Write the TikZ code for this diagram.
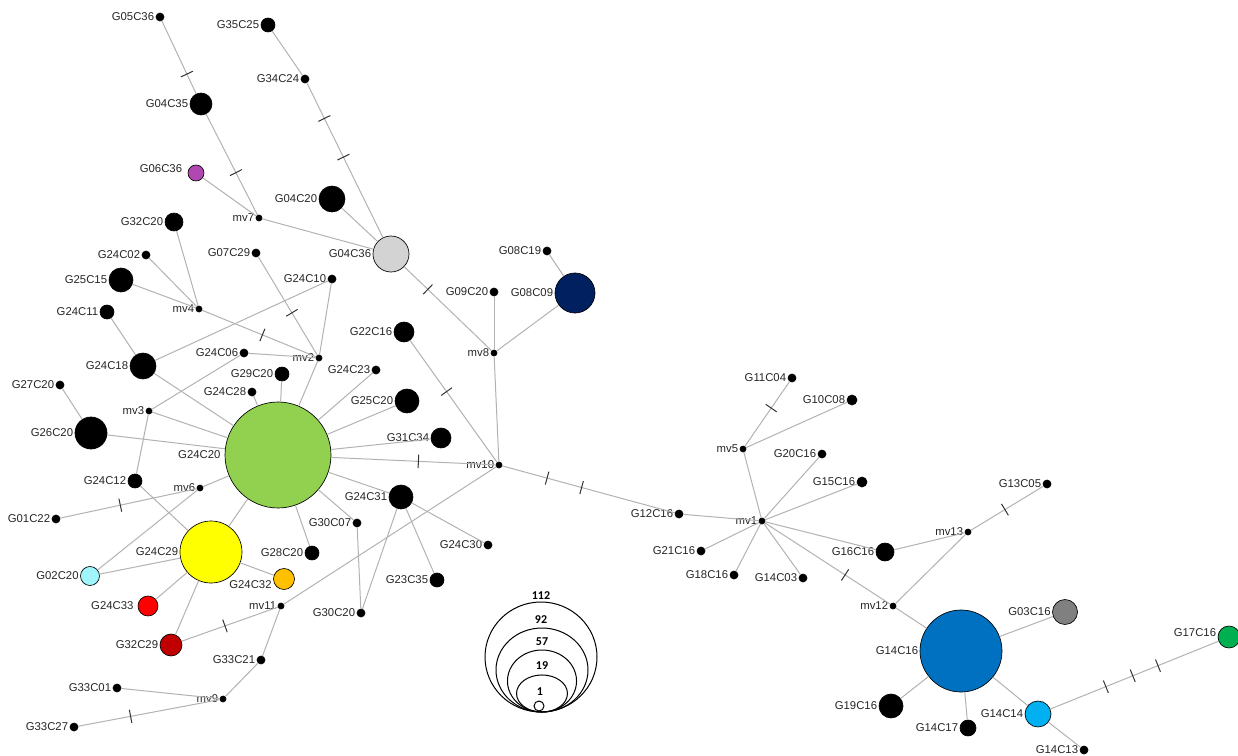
\documentclass[tikz,border=0pt]{standalone}
\usepackage{fontspec}
\setmainfont{Liberation Sans}
\newfontfamily\keyfont{Carlito}
\usepackage{tikz}

\definecolor{hgreen}{RGB}{146,208,80}
\definecolor{hlgray}{RGB}{211,211,211}
\definecolor{hpurple}{RGB}{177,72,178}
\definecolor{hnavy}{RGB}{0,32,96}
\definecolor{hyellow}{RGB}{255,255,0}
\definecolor{hpale}{RGB}{160,245,250}
\definecolor{hred}{RGB}{255,0,0}
\definecolor{hdred}{RGB}{192,0,0}
\definecolor{horange}{RGB}{255,192,0}
\definecolor{hblue}{RGB}{0,112,192}
\definecolor{hgray}{RGB}{128,128,128}
\definecolor{hsky}{RGB}{0,176,240}
\definecolor{hlime}{RGB}{0,176,80}

\begin{document}
\begin{tikzpicture}[x=0.75pt, y=-0.75pt,
    hap/.style={circle, draw=black, line width=0.5pt, fill=black, inner sep=0pt, minimum size=#1*1.5pt},
    mv/.style={hap=3},
    lbl/.style={font=\fontsize{8.5}{9}\selectfont, text=black!85, inner sep=1pt},
    lnk/.style={draw=gray!60, line width=0.75pt},
    tk/.style={draw=black!80, line width=0.75pt, sloped, inner sep=0pt, minimum width=0pt, minimum height=10pt},
    key/.style={draw=black, line width=0.75pt},
    keylbl/.style={font=\keyfont\bfseries\fontsize{9}{10}\selectfont, inner sep=0pt}]
    \useasboundingbox (0,0) rectangle (1238,756);

    % black haplotypes
    \foreach \n/\x/\y/\r in {G05C36/160/17/4, G35C25/268/25/7, G04C35/201/104/11, G34C24/305/79/4,
        G04C20/332/199/13, G32C20/174/222/9, G24C02/146/255/4, G07C29/256/253/4, G25C15/121/280/12,
        G24C10/332/279/4, G24C11/107/312/7, G22C16/404/332/10, G24C06/244/353/4, G24C18/143/366/13,
        G29C20/282/374/7, G24C23/376/370/4, G24C28/252/392/4, G27C20/60/385/4, G25C20/407/401/12,
        G26C20/91/433/16, G31C34/441/438/10, G24C12/135/481/7, G24C31/401/497/12, G01C22/56/519/4,
        G30C07/357/523/4, G24C30/488/545/4, G28C20/312/553/7, G23C35/437/580/7, G30C20/361/613/4,
        G33C21/261/660/4, G33C01/117/688/4, G33C27/74/727/4, G08C19/547/251/4, G09C20/494/292/4,
        G12C16/679/514/4, G11C04/792/378/4, G10C08/852/400/5, G20C16/822/454/4, G15C16/862/482/5,
        G21C16/701/551/4, G18C16/734/575/4, G14C03/803/578/4, G16C16/885/552/9, G13C05/1047/484/4,
        G19C16/891/706/12, G14C17/968/728/8, G14C13/1084/750/4}
        \node[hap=\r, label={[lbl]left:\n}] (\n) at (\x,\y) {};

    % median vectors
    \foreach \n/\x/\y in {mv7/259/218, mv4/199/309, mv2/319/358, mv3/149/411, mv6/200/488,
        mv11/281/606, mv9/223/699, mv8/494/353, mv10/499/465, mv5/743/449, mv1/762/521,
        mv13/968/532, mv12/893/606}
        \node[mv, label={[lbl]left:\n}] (\n) at (\x,\y) {};

    % coloured haplotypes
    \node[hap=53, fill=hgreen, label={[lbl, label distance=2pt]left:G24C20}] (G24C20) at (278,455) {};
    \node[hap=18, fill=hlgray, label={[lbl]left:G04C36}] (G04C36) at (391,254) {};
    \node[hap=8, fill=hpurple, label={[lbl, label distance=3pt, yshift=3pt]left:G06C36}] (G06C36) at (196,173) {};
    \node[hap=20, fill=hnavy, label={[lbl]left:G08C09}] (G08C09) at (575,293) {};
    \node[hap=31, fill=hyellow, label={[lbl]left:G24C29}] (G24C29) at (211,552) {};
    \node[hap=9.5, fill=hpale, label={[lbl]left:G02C20}] (G02C20) at (90,576) {};
    \node[hap=10, fill=hred, label={[lbl, label distance=2pt]left:G24C33}] (G24C33) at (148,606) {};
    \node[hap=11, fill=hdred, label={[lbl]left:G32C29}] (G32C29) at (171,645) {};
    \node[hap=10.5, fill=horange, label={[lbl, yshift=-4pt]left:G24C32}] (G24C32) at (284,579) {};
    \node[hap=41, fill=hblue, label={[lbl]left:G14C16}] (G14C16) at (961,651) {};
    \node[hap=12.5, fill=hgray, label={[lbl]left:G03C16}] (G03C16) at (1065,612) {};
    \node[hap=13, fill=hsky, label={[lbl]left:G14C14}] (G14C14) at (1038,714) {};
    \node[hap=11, fill=hlime, label={[lbl, yshift=3pt]left:G17C16}] (G17C16) at (1229,637) {};

    % plain links
    \foreach \a/\b in {G06C36/mv7, mv7/G04C36, G35C25/G34C24, G04C20/G04C36, G08C19/G08C09,
        G08C09/mv8, G09C20/mv8, mv8/mv10, mv10/mv11, mv11/G33C21, G33C21/mv9, mv9/G33C01,
        G32C20/mv4, G24C02/mv4, G25C15/mv4, G24C10/mv2, G24C10/G24C18, G24C06/mv2, mv2/G24C20,
        G24C06/mv3, G24C11/G24C18, G24C18/G24C20, G27C20/G26C20, G26C20/G24C20, mv3/G24C20,
        mv3/G24C12, G29C20/G24C20, G24C28/G24C20, G24C23/G24C20, G25C20/G24C20, G31C34/G24C20,
        G24C31/G24C20, G30C07/G24C20, G28C20/G24C20, G24C20/G24C29, G24C20/mv6, mv6/G02C20,
        G24C12/G24C29, G02C20/G24C29, G24C33/G24C29, G32C29/G24C29, G24C32/G24C29,
        G24C31/G24C30, G24C31/G23C35, G24C31/G30C20, G30C07/G30C20, G12C16/mv1, mv1/mv5,
        mv5/G10C08, mv1/G20C16, mv1/G15C16, mv1/G21C16, mv1/G18C16, mv1/G14C03, mv1/G16C16,
        G16C16/mv13, mv13/mv12, mv12/G14C16, G14C16/G03C16, G14C16/G19C16, G14C16/G14C17,
        G14C16/G14C14, G14C14/G14C13}
        \draw[lnk] (\a) -- (\b);

    % links with mutation ticks
    \draw[lnk] (G05C36) -- node[tk, pos=.73] {} (G04C35);
    \draw[lnk] (G04C35) -- node[tk, pos=.58] {} (mv7);
    \draw[lnk] (G34C24) -- node[tk, pos=.23] {} node[tk, pos=.48] {} (G04C36);
    \draw[lnk] (G04C36) -- node[tk, pos=.27] {} (mv8);
    \draw[lnk] (G22C16) -- node[tk, pos=.42] {} (mv10);
    \draw[lnk] (G24C20) -- node[tk, pos=.53] {} (mv10);
    \draw[lnk] (mv10) -- node[tk, pos=.26] {} node[tk, pos=.46] {} (G12C16);
    \draw[lnk] (mv11) -- node[tk, pos=.55] {} (G32C29);
    \draw[lnk] (mv9) -- node[tk, pos=.63] {} (G33C27);
    \draw[lnk] (mv4) -- node[tk, pos=.53] {} (mv2);
    \draw[lnk] (G07C29) -- node[tk, pos=.57] {} (mv2);
    \draw[lnk] (mv6) -- node[tk, pos=.56] {} (G01C22);
    \draw[lnk] (mv5) -- node[tk, pos=.59] {} (G11C04);
    \draw[lnk] (mv1) -- node[tk, pos=.64] {} (mv12);
    \draw[lnk] (mv13) -- node[tk, pos=.47] {} (G13C05);
    \draw[lnk] (G14C14) -- node[tk, pos=.33] {} node[tk, pos=.49] {} node[tk, pos=.64] {} (G17C16);

    % size key
    \draw[key] (541,657) ellipse [x radius=42pt, y radius=41.25pt];
    \draw[key] (542,670) ellipse [x radius=34.5pt, y radius=31.5pt];
    \draw[key] (542,681) ellipse [x radius=25.9pt, y radius=23.25pt];
    \draw[key] (542,693.5) ellipse [x radius=19.1pt, y radius=13.9pt];
    \draw[key] (539,706) circle [radius=3.75pt];
    \node[keylbl] (key112) at (541,596) {112};
    \node[keylbl] (key92) at (541,620) {92};
    \node[keylbl] (key57) at (542,642) {57};
    \node[keylbl] (key19) at (542,666) {19};
    \node[keylbl] (key1) at (540,692) {1};
\end{tikzpicture}
\end{document}
